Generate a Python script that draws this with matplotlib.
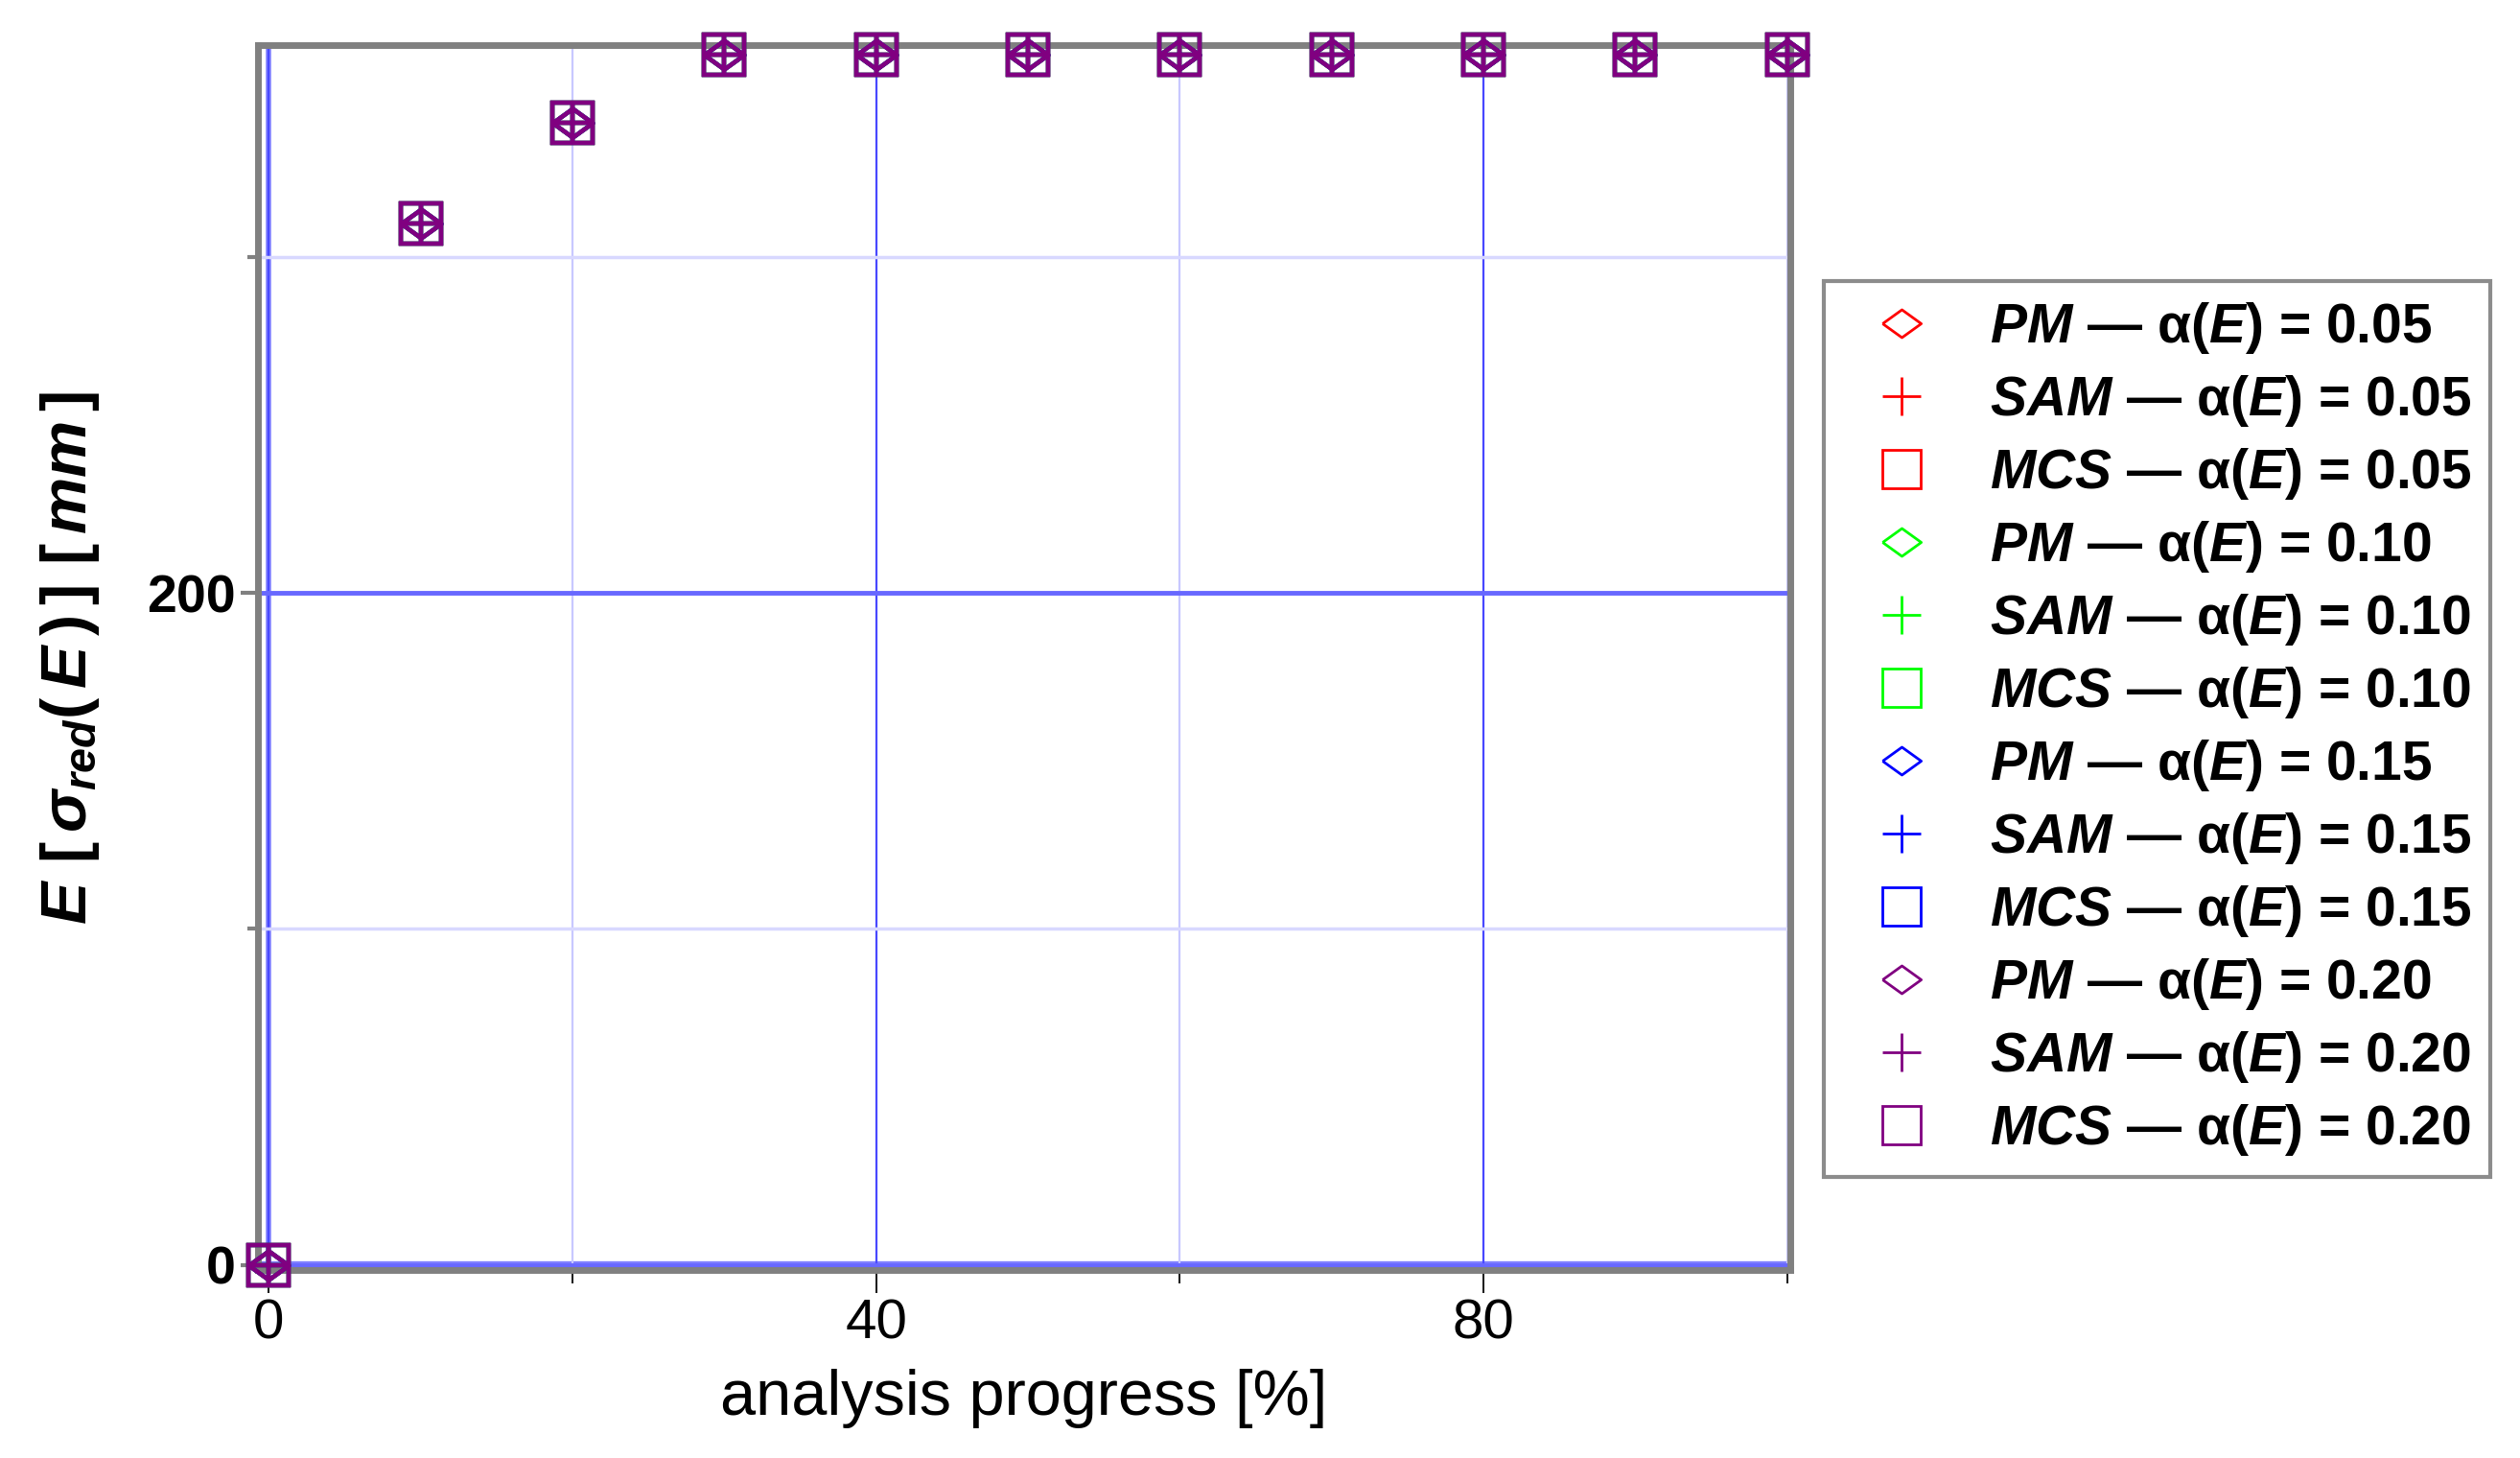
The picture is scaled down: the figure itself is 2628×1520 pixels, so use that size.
import matplotlib
matplotlib.use('Agg')
import matplotlib.pyplot as plt
from matplotlib.lines import Line2D
from matplotlib.ticker import FixedLocator

plt.rcParams['font.family'] = ['Liberation Sans', 'DejaVu Sans']
plt.rcParams['mathtext.fontset'] = 'custom'
plt.rcParams['mathtext.it'] = 'Liberation Sans:italic:bold'
plt.rcParams['mathtext.rm'] = 'Liberation Sans:bold'
plt.rcParams['mathtext.bf'] = 'Liberation Sans:bold'

# data (all series overlap)
progress = [0, 10, 20, 30, 40, 50, 60, 70, 80, 90, 100]
pm_vals = [0, 310, 340, 360, 360, 360, 360, 360, 360, 360, 360]
sam_vals = [0, 310, 340, 360, 360, 360, 360, 360, 360, 360, 360]
mcs_vals = [0, 310, 340, 360, 360, 360, 360, 360, 360, 360, 360]
alphas = ['0.05', '0.10', '0.15', '0.20']
alpha_colors = ['#ff0000', '#00ff00', '#0000ff', '#800080']
methods = ['PM', 'SAM', 'MCS']

diamond = [(-1, 0), (0, 0.72), (1, 0), (0, -0.72), (-1, 0)]
method_markers = {'PM': diamond, 'SAM': '+', 'MCS': 's'}
method_vals = {'PM': pm_vals, 'SAM': sam_vals, 'MCS': mcs_vals}

fig = plt.figure(figsize=(26.28, 15.20), dpi=100)
ax = fig.add_axes([0.1024, 0.1289, 0.608, 0.8402])

handles = []
labels = []
for a, col in zip(alphas, alpha_colors):
    for m in methods:
        ax.plot(progress, method_vals[m], linestyle='none',
                marker=method_markers[m], markersize=30,
                markerfacecolor='none', markeredgecolor=col,
                markeredgewidth=3.2, clip_on=False, zorder=4)
        handles.append(Line2D([], [], linestyle='none', marker=method_markers[m],
                              markersize=29, markerfacecolor='none',
                              markeredgecolor=col, markeredgewidth=2))
        labels.append('$%s$ \u2014 \u03b1($E$) = %s' % (m, a))

ax.set_xlim(-0.7, 100.2)
ax.set_ylim(-1.5, 363)

ax.xaxis.set_major_locator(FixedLocator([0, 40, 80]))
ax.xaxis.set_minor_locator(FixedLocator([20, 60, 100]))
ax.yaxis.set_major_locator(FixedLocator([0, 200]))
ax.yaxis.set_minor_locator(FixedLocator([100, 300]))

ax.xaxis.grid(True, which='major', color='#4848ff', linewidth=1.6)
ax.xaxis.grid(True, which='minor', color='#c8c8ff', linewidth=1.6)
ax.yaxis.grid(True, which='major', color='#6868ff', linewidth=3.5)
ax.yaxis.grid(True, which='minor', color='#d8d8ff', linewidth=2.5)
ax.axhline(0, color='#8080ff', linewidth=6, zorder=1.5)
ax.axvline(0, color='#8080ff', linewidth=4, zorder=1.5)

for s in ax.spines.values():
    s.set_color('#808080')
    s.set_linewidth(5)

ax.tick_params(axis='x', which='major', length=17, width=1.5, color='#202020',
               labelsize=42, pad=4)
ax.tick_params(axis='x', which='minor', length=10, width=1.5, color='#202020')
ax.tick_params(axis='y', which='major', length=13, width=3, color='#808080',
               labelsize=40, pad=4)
ax.tick_params(axis='y', which='minor', length=8, width=3, color='#808080')
for lbl in ax.get_yticklabels():
    lbl.set_fontweight('bold')

ax.set_xlabel('analysis progress [%]', fontsize=48, labelpad=14)
ax.set_ylabel(r'$E\ \left[\,\sigma_{red}(\,E\,)\,\right]\ [\,mm\,]$',
              fontsize=48, va='baseline')
ax.yaxis.set_label_coords(-0.112, 0.5)

leg = fig.legend(handles, labels, loc='upper left',
                 bbox_to_anchor=(0.7237, 0.8072), frameon=True, fancybox=False,
                 edgecolor='#707070', prop={'size': 41, 'weight': 'bold'},
                 handlelength=2.14, handletextpad=0.55, labelspacing=0.316,
                 borderpad=0.35, borderaxespad=0)
leg.get_frame().set_linewidth(3)

fig.savefig('out.png', dpi=100, facecolor='white')
